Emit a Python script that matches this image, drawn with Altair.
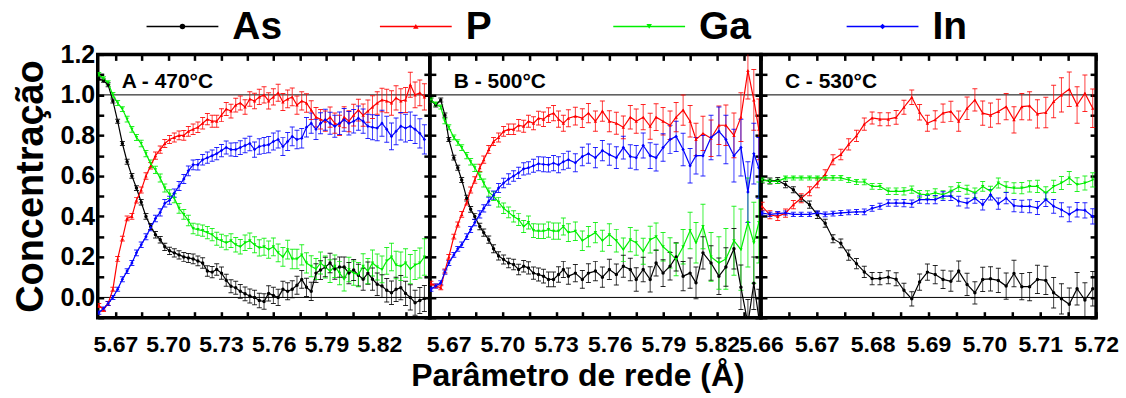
import altair as alt
import pandas as pd

SERIES = ["As", "P", "Ga", "In"]
COLORS = ["#000000", "#ff0000", "#00ee00", "#0000ff"]
SHAPES = ["circle", "triangle-up", "triangle-down", "diamond"]
PANEL_LABELS = ["A - 470°C", "B - 500°C", "C - 530°C"]
REF_LINES = [0.0, 1.0]
Y_TICKS = [-0.1, 0.0, 0.1, 0.2, 0.3, 0.4, 0.5, 0.6, 0.7, 0.8, 0.9, 1.0, 1.1, 1.2]
AB_TICKS = [5.67, 5.685, 5.70, 5.715, 5.73, 5.745, 5.76, 5.775, 5.79, 5.805, 5.82, 5.835]
C_TICKS = [5.66, 5.665, 5.67, 5.675, 5.68, 5.685, 5.69, 5.695, 5.70, 5.705, 5.71, 5.715, 5.72]
A_DOMAIN = [5.66, 5.8487]
B_DOMAIN = [5.6595, 5.8445]
C_DOMAIN = [5.66, 5.72]
Y_DOMAIN = [-0.1, 1.2]

# ---------------- Panel A (470 C) ----------------
A_X = [5.6606, 5.6633, 5.6659, 5.6686, 5.6713, 5.6740, 5.6767, 5.6794, 5.6820, 5.6847,
       5.6874, 5.6901, 5.6928, 5.6955, 5.6981, 5.7008, 5.7035, 5.7062, 5.7089, 5.7115,
       5.7142, 5.7169, 5.7196, 5.7223, 5.7250, 5.7276, 5.7303, 5.7330, 5.7357, 5.7384,
       5.7410, 5.7437, 5.7464, 5.7491, 5.7518, 5.7545, 5.7571, 5.7598, 5.7625, 5.7652,
       5.7679, 5.7705, 5.7732, 5.7759, 5.7786, 5.7813, 5.7840, 5.7866, 5.7893, 5.7920,
       5.7947, 5.7974, 5.8000, 5.8027, 5.8054, 5.8081, 5.8108, 5.8135, 5.8161, 5.8188,
       5.8215, 5.8242, 5.8269, 5.8295, 5.8322, 5.8349, 5.8376, 5.8403, 5.8430, 5.8456]
A_AS = [1.08, 1.07, 1.05, 0.97, 0.87, 0.76, 0.67, 0.60, 0.54, 0.47,
        0.40, 0.35, 0.31, 0.285, 0.25, 0.23, 0.22, 0.21, 0.20, 0.195,
        0.19, 0.18, 0.17, 0.13, 0.125, 0.138, 0.12, 0.085, 0.055, 0.048,
        0.03, 0.018, 0.007, 0.0, -0.015, -0.02, 0.02, 0.01, 0.0, 0.04,
        0.03, 0.04, 0.06, 0.089, 0.05, 0.03, 0.12, 0.135, 0.15, 0.17,
        0.14, 0.15, 0.15, 0.12, 0.135, 0.11, 0.09, 0.12, 0.09, 0.065,
        0.056, 0.035, 0.023, 0.04, 0.048, 0.02, 0.0, -0.026, -0.015, -0.005]
A_P = [-0.04, -0.06, -0.03, 0.04, 0.19, 0.29, 0.39, 0.40, 0.48, 0.53,
       0.60, 0.65, 0.70, 0.73, 0.76, 0.78, 0.79, 0.80, 0.80, 0.82,
       0.83, 0.84, 0.86, 0.88, 0.87, 0.87, 0.90, 0.93, 0.92, 0.95,
       0.96, 0.94, 0.98, 0.97, 0.99, 1.00, 0.97, 0.99, 1.01, 0.965,
       0.98, 0.99, 0.95, 0.97, 0.96, 0.925, 0.89, 0.88, 0.87, 0.89,
       0.86, 0.85, 0.89, 0.87, 0.90, 0.925, 0.90, 0.92, 0.94, 0.96,
       0.975, 0.97, 0.96, 0.985, 0.97, 0.975, 1.05, 1.00, 1.01, 0.99]
A_GA = [1.10, 1.08, 1.06, 1.00, 0.96, 0.93, 0.88, 0.83, 0.79, 0.76,
        0.71, 0.66, 0.63, 0.59, 0.54, 0.51, 0.49, 0.44, 0.41, 0.38,
        0.34, 0.335, 0.33, 0.32, 0.31, 0.29, 0.28, 0.27, 0.28, 0.26,
        0.25, 0.27, 0.28, 0.26, 0.245, 0.25, 0.236, 0.25, 0.22, 0.20,
        0.236, 0.19, 0.19, 0.21, 0.17, 0.154, 0.14, 0.17, 0.15, 0.13,
        0.154, 0.12, 0.09, 0.138, 0.12, 0.113, 0.154, 0.13, 0.17, 0.15,
        0.138, 0.18, 0.20, 0.16, 0.154, 0.17, 0.14, 0.16, 0.17, 0.20]
A_IN = [-0.075, -0.055, -0.03, 0.0, 0.04, 0.09, 0.13, 0.17, 0.22, 0.26,
        0.30, 0.345, 0.39, 0.42, 0.465, 0.48, 0.515, 0.55, 0.585, 0.625,
        0.655, 0.655, 0.68, 0.69, 0.70, 0.71, 0.725, 0.74, 0.73, 0.73,
        0.74, 0.75, 0.76, 0.73, 0.745, 0.75, 0.754, 0.77, 0.78, 0.745,
        0.77, 0.795, 0.78, 0.786, 0.84, 0.86, 0.83, 0.86, 0.877, 0.86,
        0.845, 0.86, 0.877, 0.86, 0.87, 0.885, 0.87, 0.845, 0.84, 0.836,
        0.86, 0.83, 0.795, 0.82, 0.845, 0.836, 0.845, 0.83, 0.81, 0.78]
A_AS_ERR = [0.008, 0.008, 0.01, 0.01, 0.01, 0.01, 0.012, 0.012, 0.012, 0.014,
            0.014, 0.015, 0.016, 0.016, 0.018, 0.018, 0.02, 0.02, 0.022, 0.022,
            0.024, 0.024, 0.026, 0.026, 0.028, 0.028, 0.03, 0.03, 0.032, 0.032,
            0.034, 0.034, 0.035, 0.036, 0.036, 0.038, 0.038, 0.04, 0.04, 0.04,
            0.042, 0.042, 0.044, 0.044, 0.045, 0.045, 0.046, 0.046, 0.048, 0.048,
            0.05, 0.05, 0.05, 0.052, 0.052, 0.054, 0.054, 0.055, 0.055, 0.056,
            0.056, 0.058, 0.058, 0.06, 0.06, 0.06, 0.062, 0.062, 0.064, 0.064]
A_P_ERR = [0.01, 0.01, 0.01, 0.01, 0.012, 0.012, 0.012, 0.014, 0.014, 0.015,
           0.016, 0.016, 0.018, 0.018, 0.02, 0.02, 0.022, 0.022, 0.024, 0.024,
           0.026, 0.026, 0.028, 0.028, 0.03, 0.03, 0.032, 0.032, 0.034, 0.034,
           0.035, 0.036, 0.036, 0.038, 0.038, 0.04, 0.04, 0.04, 0.042, 0.042,
           0.044, 0.044, 0.045, 0.045, 0.046, 0.046, 0.048, 0.048, 0.05, 0.05,
           0.05, 0.05, 0.052, 0.052, 0.054, 0.054, 0.055, 0.055, 0.056, 0.056,
           0.058, 0.058, 0.06, 0.06, 0.06, 0.062, 0.062, 0.064, 0.064, 0.065]
A_GA_ERR = [0.01, 0.01, 0.01, 0.012, 0.012, 0.012, 0.014, 0.014, 0.015, 0.016,
            0.016, 0.018, 0.018, 0.02, 0.02, 0.022, 0.022, 0.024, 0.024, 0.026,
            0.026, 0.028, 0.028, 0.03, 0.03, 0.032, 0.032, 0.034, 0.034, 0.036,
            0.036, 0.038, 0.038, 0.04, 0.04, 0.042, 0.042, 0.044, 0.044, 0.046,
            0.046, 0.048, 0.048, 0.05, 0.05, 0.052, 0.052, 0.054, 0.054, 0.056,
            0.056, 0.058, 0.058, 0.06, 0.06, 0.06, 0.062, 0.062, 0.064, 0.064,
            0.066, 0.066, 0.068, 0.068, 0.07, 0.07, 0.072, 0.072, 0.074, 0.09]
A_IN_ERR = [0.008, 0.008, 0.01, 0.01, 0.01, 0.012, 0.012, 0.012, 0.014, 0.014,
            0.015, 0.016, 0.016, 0.018, 0.018, 0.02, 0.02, 0.022, 0.022, 0.024,
            0.024, 0.026, 0.026, 0.028, 0.028, 0.03, 0.03, 0.032, 0.032, 0.034,
            0.034, 0.036, 0.036, 0.038, 0.038, 0.04, 0.04, 0.042, 0.042, 0.044,
            0.044, 0.046, 0.046, 0.048, 0.048, 0.05, 0.05, 0.052, 0.052, 0.054,
            0.054, 0.056, 0.056, 0.058, 0.058, 0.06, 0.06, 0.06, 0.062, 0.062,
            0.064, 0.064, 0.066, 0.066, 0.068, 0.068, 0.07, 0.07, 0.072, 0.072]

# ---------------- Panel B (500 C) ----------------
B_X = [5.6601, 5.6628, 5.6656, 5.6679, 5.6701, 5.6729, 5.6751, 5.6773, 5.6801, 5.6823,
       5.6846, 5.6874, 5.6896, 5.6924, 5.6951, 5.6979, 5.7007, 5.7035, 5.7063, 5.7091,
       5.7119, 5.7146, 5.7174, 5.7202, 5.7230, 5.7258, 5.7286, 5.7314, 5.7341, 5.7369,
       5.7408, 5.7447, 5.7481, 5.7520, 5.7559, 5.7598, 5.7637, 5.7676, 5.7715, 5.7748,
       5.7787, 5.7826, 5.7859, 5.7898, 5.7937, 5.7971, 5.8010, 5.8049, 5.8082, 5.8121,
       5.8166, 5.8210, 5.8249, 5.8294, 5.8333, 5.8372, 5.8405, 5.8433]
B_AS = [0.975, 0.95, 0.975, 0.90, 0.78, 0.69, 0.64, 0.58, 0.49, 0.435,
        0.40, 0.35, 0.32, 0.285, 0.24, 0.205, 0.187, 0.17, 0.163, 0.138,
        0.154, 0.146, 0.12, 0.113, 0.105, 0.089, 0.089, 0.113, 0.138, 0.105,
        0.12, 0.089, 0.12, 0.13, 0.10, 0.138, 0.113, 0.154, 0.138, 0.089,
        0.138, 0.089, 0.17, 0.12, 0.154, 0.20, 0.105, 0.12, 0.072, 0.22,
        0.17, 0.105, 0.15, 0.24, 0.05, -0.13, 0.07, -0.1]
B_P = [0.07, 0.056, 0.048, 0.13, 0.20, 0.30, 0.36, 0.41, 0.47, 0.53,
       0.58, 0.64, 0.68, 0.73, 0.77, 0.79, 0.82, 0.83, 0.83, 0.85,
       0.845, 0.87, 0.86, 0.885, 0.88, 0.90, 0.91, 0.88, 0.86, 0.885,
       0.895, 0.885, 0.91, 0.87, 0.92, 0.87, 0.86, 0.84, 0.89, 0.87,
       0.89, 0.845, 0.89, 0.87, 0.85, 0.89, 0.925, 0.87, 0.78, 0.81,
       0.786, 0.85, 0.85, 0.80, 0.89, 1.12, 0.975, 0.83]
B_GA = [0.975, 0.955, 0.94, 0.87, 0.84, 0.79, 0.765, 0.74, 0.70, 0.67,
        0.64, 0.60, 0.565, 0.52, 0.50, 0.47, 0.44, 0.42, 0.40, 0.385,
        0.35, 0.37, 0.33, 0.327, 0.327, 0.335, 0.327, 0.327, 0.35, 0.32,
        0.327, 0.28, 0.30, 0.32, 0.28, 0.31, 0.28, 0.236, 0.285, 0.27,
        0.228, 0.285, 0.30, 0.25, 0.22, 0.187, 0.25, 0.33, 0.27, 0.35,
        0.20, 0.17, 0.19, 0.28, 0.236, 0.37, 0.27, 0.37]
B_IN = [0.04, 0.056, 0.072, 0.125, 0.17, 0.21, 0.24, 0.26, 0.30, 0.335,
        0.37, 0.41, 0.44, 0.475, 0.505, 0.54, 0.565, 0.585, 0.60, 0.615,
        0.635, 0.64, 0.65, 0.66, 0.657, 0.655, 0.663, 0.655, 0.67, 0.68,
        0.665, 0.696, 0.71, 0.69, 0.725, 0.705, 0.69, 0.74, 0.696, 0.69,
        0.75, 0.70, 0.69, 0.74, 0.78, 0.795, 0.73, 0.65, 0.70, 0.70,
        0.79, 0.82, 0.78, 0.70, 0.74, 0.52, 0.71, 0.64]
B_AS_ERR = [0.01, 0.01, 0.01, 0.01, 0.01, 0.012, 0.012, 0.012, 0.014, 0.014,
            0.015, 0.016, 0.018, 0.018, 0.02, 0.02, 0.022, 0.024, 0.026, 0.026,
            0.028, 0.03, 0.03, 0.032, 0.034, 0.036, 0.036, 0.038, 0.04, 0.04,
            0.042, 0.044, 0.046, 0.048, 0.05, 0.05, 0.052, 0.054, 0.056, 0.058,
            0.06, 0.062, 0.064, 0.066, 0.068, 0.07, 0.072, 0.075, 0.078, 0.08,
            0.085, 0.09, 0.095, 0.1, 0.11, 0.12, 0.13, 0.14]
B_P_ERR = [0.01, 0.01, 0.01, 0.01, 0.012, 0.012, 0.012, 0.014, 0.014, 0.015,
           0.016, 0.018, 0.018, 0.02, 0.02, 0.022, 0.024, 0.026, 0.026, 0.028,
           0.03, 0.03, 0.032, 0.034, 0.036, 0.036, 0.038, 0.04, 0.04, 0.042,
           0.044, 0.046, 0.048, 0.05, 0.05, 0.052, 0.054, 0.056, 0.058, 0.06,
           0.062, 0.064, 0.066, 0.068, 0.07, 0.072, 0.075, 0.078, 0.08, 0.085,
           0.09, 0.095, 0.1, 0.11, 0.12, 0.14, 0.15, 0.15]
B_GA_ERR = [0.01, 0.01, 0.01, 0.012, 0.012, 0.012, 0.014, 0.014, 0.015, 0.016,
            0.018, 0.018, 0.02, 0.02, 0.022, 0.024, 0.026, 0.026, 0.028, 0.03,
            0.03, 0.032, 0.034, 0.036, 0.036, 0.038, 0.04, 0.04, 0.042, 0.044,
            0.046, 0.048, 0.05, 0.05, 0.052, 0.054, 0.056, 0.058, 0.06, 0.062,
            0.064, 0.066, 0.068, 0.07, 0.075, 0.08, 0.085, 0.09, 0.1, 0.11,
            0.12, 0.13, 0.15, 0.17, 0.2, 0.22, 0.2, 0.2]
B_IN_ERR = [0.01, 0.01, 0.01, 0.01, 0.012, 0.012, 0.012, 0.014, 0.014, 0.015,
            0.016, 0.018, 0.018, 0.02, 0.02, 0.022, 0.024, 0.026, 0.026, 0.028,
            0.03, 0.03, 0.032, 0.034, 0.036, 0.036, 0.038, 0.04, 0.04, 0.042,
            0.044, 0.046, 0.048, 0.05, 0.05, 0.052, 0.054, 0.056, 0.058, 0.06,
            0.062, 0.064, 0.066, 0.068, 0.07, 0.075, 0.08, 0.085, 0.09, 0.1,
            0.11, 0.12, 0.12, 0.13, 0.14, 0.15, 0.15, 0.15]

# ---------------- Panel C (530 C) ----------------
C_X = [5.6602, 5.6616, 5.6630, 5.6644, 5.6658, 5.6672, 5.6687, 5.6701, 5.6715, 5.6729,
       5.6743, 5.6757, 5.6771, 5.6785, 5.6799, 5.6813, 5.6828, 5.6842, 5.6856, 5.6870,
       5.6884, 5.6898, 5.6912, 5.6926, 5.6940, 5.6954, 5.6969, 5.6983, 5.6997, 5.7011,
       5.7025, 5.7039, 5.7053, 5.7067, 5.7081, 5.7095, 5.7110, 5.7124, 5.7138, 5.7152,
       5.7166, 5.7180, 5.7194]
C_AS = [0.58, 0.575, 0.577, 0.557, 0.532, 0.49, 0.458, 0.408, 0.366, 0.29,
        0.267, 0.209, 0.167, 0.126, 0.093, 0.093, 0.10, 0.09, 0.035, -0.007,
        0.076, 0.125, 0.113, 0.089, 0.08, 0.13, 0.064, 0.023, 0.089, 0.092,
        0.084, 0.056, 0.118, 0.053, 0.053, 0.089, 0.084, 0.023, -0.007, -0.034,
        0.043, -0.013, 0.043]
C_P = [0.45, 0.408, 0.40, 0.416, 0.458, 0.49, 0.524, 0.565, 0.607, 0.68,
       0.706, 0.756, 0.798, 0.856, 0.886, 0.88, 0.88, 0.889, 0.939, 0.988,
       0.914, 0.86, 0.877, 0.91, 0.918, 0.87, 0.934, 0.975, 0.91, 0.90,
       0.918, 0.942, 0.877, 0.942, 0.946, 0.906, 0.913, 0.967, 1.0, 1.028,
       0.95, 1.008, 0.934]
C_GA = [0.58, 0.573, 0.573, 0.59, 0.59, 0.59, 0.59, 0.59, 0.59, 0.59,
        0.59, 0.58, 0.57, 0.57, 0.548, 0.548, 0.524, 0.524, 0.524, 0.532,
        0.51, 0.507, 0.516, 0.507, 0.524, 0.545, 0.532, 0.516, 0.548, 0.524,
        0.565, 0.545, 0.54, 0.54, 0.548, 0.548, 0.516, 0.548, 0.565, 0.59,
        0.557, 0.565, 0.58]
C_IN = [0.417, 0.41, 0.414, 0.417, 0.41, 0.41, 0.41, 0.417, 0.41, 0.414,
        0.417, 0.42, 0.422, 0.422, 0.44, 0.45, 0.466, 0.466, 0.466, 0.463,
        0.483, 0.483, 0.483, 0.5, 0.5, 0.475, 0.466, 0.49, 0.458, 0.507,
        0.463, 0.49, 0.453, 0.45, 0.45, 0.442, 0.483, 0.45, 0.433, 0.41,
        0.433, 0.43, 0.40]
C_AS_ERR = [0.015, 0.015, 0.015, 0.015, 0.015, 0.015, 0.018, 0.018, 0.02, 0.02,
            0.022, 0.025, 0.025, 0.028, 0.03, 0.03, 0.032, 0.032, 0.035, 0.035,
            0.04, 0.04, 0.045, 0.045, 0.05, 0.05, 0.055, 0.055, 0.06, 0.06,
            0.06, 0.065, 0.065, 0.065, 0.07, 0.07, 0.07, 0.075, 0.075, 0.08,
            0.08, 0.085, 0.085]
C_P_ERR = [0.02, 0.02, 0.02, 0.02, 0.02, 0.022, 0.022, 0.024, 0.024, 0.025,
           0.026, 0.028, 0.028, 0.03, 0.03, 0.032, 0.032, 0.034, 0.035, 0.036,
           0.038, 0.04, 0.045, 0.045, 0.05, 0.05, 0.055, 0.055, 0.06, 0.06,
           0.06, 0.065, 0.065, 0.065, 0.07, 0.07, 0.075, 0.08, 0.085, 0.085,
           0.09, 0.09, 0.095]
C_GA_ERR = [0.01, 0.01, 0.01, 0.01, 0.01, 0.01, 0.01, 0.01, 0.012, 0.012,
            0.012, 0.012, 0.012, 0.014, 0.014, 0.015, 0.016, 0.016, 0.018, 0.018,
            0.018, 0.02, 0.02, 0.02, 0.022, 0.022, 0.022, 0.024, 0.024, 0.025,
            0.025, 0.026, 0.026, 0.028, 0.028, 0.03, 0.03, 0.03, 0.032, 0.032,
            0.034, 0.034, 0.035]
C_IN_ERR = [0.01, 0.01, 0.01, 0.01, 0.01, 0.01, 0.01, 0.01, 0.012, 0.012,
            0.012, 0.012, 0.012, 0.014, 0.014, 0.015, 0.016, 0.016, 0.018, 0.018,
            0.018, 0.02, 0.02, 0.022, 0.022, 0.024, 0.024, 0.025, 0.026, 0.026,
            0.028, 0.028, 0.03, 0.03, 0.032, 0.032, 0.034, 0.034, 0.035, 0.036,
            0.036, 0.038, 0.038]

FONT = "Liberation Sans, Arial, sans-serif"


def long_frame(xs, values, errors):
    rows = []
    for name, vals, errs in zip(SERIES, values, errors):
        for x, v, e in zip(xs, vals, errs):
            rows.append({"series": name, "x": x, "v": v, "err": e})
    return pd.DataFrame(rows)


def panel(df, domain, ticks, base_tick, step, width, label, first, x_title):
    xsc = alt.Scale(domain=domain, nice=False, zero=False)
    ysc = alt.Scale(domain=Y_DOMAIN, nice=False, zero=False)
    col = alt.Color("series:N", scale=alt.Scale(domain=SERIES, range=COLORS), legend=None)
    shp = alt.Shape("series:N", scale=alt.Scale(domain=SERIES, range=SHAPES), legend=None)
    tick_style = dict(tickSize=6, tickWidth=2.5, tickColor="black", offset=-6,
                      domain=False, grid=False)
    xlab = (f"round((datum.value - {base_tick}) / {step}) % 2 == 0 ? "
            "format(datum.value, '.2f') : ''")
    ylab = "abs(round(datum.value * 10)) % 2 == 0 ? format(datum.value, '.1f') : ''"

    bottom_kw = dict(orient="bottom", values=ticks, labelExpr=xlab, labelFont=FONT,
                     labelFontSize=23, labelFontWeight="bold", labelColor="black",
                     labelPadding=16, labelFlush=False, labelOverlap=False, **tick_style)
    if x_title:
        bottom_kw.update(title=x_title, titleFont=FONT, titleFontSize=32,
                         titleFontWeight="bold", titleColor="black", titlePadding=4,
                         titleX=width / 2 - 18, titleAlign="center")
    else:
        bottom_kw.update(title=None)
    ax_bottom = alt.Axis(**bottom_kw)
    ax_top = alt.Axis(orient="top", values=ticks, labels=False, title=None, **tick_style)
    ax_right = alt.Axis(orient="right", values=Y_TICKS, labels=False, title=None, **tick_style)
    if first:
        ax_left = alt.Axis(orient="left", values=Y_TICKS, labelExpr=ylab, labelFont=FONT,
                           labelFontSize=25, labelFontWeight="bold", labelColor="black",
                           labelPadding=3, labelOverlap=False,
                           title="Concentração", titleFont=FONT, titleFontSize=38,
                           titleFontWeight="bold", titleColor="black", titlePadding=10,
                           **tick_style)
    else:
        ax_left = alt.Axis(orient="left", values=Y_TICKS, labels=False, title=None, **tick_style)

    base = alt.Chart(df)
    xa = alt.X("x:Q", scale=xsc, axis=None)
    bars = base.transform_calculate(lo="datum.v - datum.err", hi="datum.v + datum.err")
    rules = bars.mark_rule(strokeWidth=1, opacity=0.75, clip=True).encode(
        x=xa, y=alt.Y("lo:Q", scale=ysc, axis=None), y2="hi:Q", color=col)
    cap_lo = bars.mark_tick(orient="horizontal", size=5, thickness=1, opacity=0.85,
                            clip=True).encode(
        x=xa, y=alt.Y("lo:Q", scale=ysc, axis=None), color=col)
    cap_hi = bars.mark_tick(orient="horizontal", size=5, thickness=1, opacity=0.85,
                            clip=True).encode(
        x=xa, y=alt.Y("hi:Q", scale=ysc, axis=None), color=col)
    line = base.mark_line(strokeWidth=1.2, clip=True).encode(
        x=alt.X("x:Q", scale=xsc, axis=ax_bottom),
        y=alt.Y("v:Q", scale=ysc, axis=None), color=col)
    pts = base.mark_point(filled=True, size=12, opacity=1, clip=True).encode(
        x=alt.X("x:Q", scale=xsc, axis=ax_top),
        y=alt.Y("v:Q", scale=ysc, axis=ax_right), color=col, shape=shp)
    refs = alt.Chart(pd.DataFrame({"ref": REF_LINES})).mark_rule(
        color="black", strokeWidth=1).encode(y=alt.Y("ref:Q", scale=ysc, axis=ax_left))
    txt = alt.Chart(pd.DataFrame({"label": [label]})).mark_text(
        align="left", baseline="alphabetic", font=FONT, fontSize=21,
        fontWeight="bold", color="black").encode(
        x=alt.value(24), y=alt.value(34), text="label:N")
    return alt.layer(refs, rules, cap_lo, cap_hi, line, pts, txt).resolve_axis(
        x="independent", y="independent").properties(
        width=width, height=264,
        view=alt.ViewBackground(stroke="black", strokeWidth=3.5))


df_a = long_frame(A_X, [A_AS, A_P, A_GA, A_IN], [A_AS_ERR, A_P_ERR, A_GA_ERR, A_IN_ERR])
df_b = long_frame(B_X, [B_AS, B_P, B_GA, B_IN], [B_AS_ERR, B_P_ERR, B_GA_ERR, B_IN_ERR])
df_c = long_frame(C_X, [C_AS, C_P, C_GA, C_IN], [C_AS_ERR, C_P_ERR, C_GA_ERR, C_IN_ERR])

pa = panel(df_a, A_DOMAIN, AB_TICKS, 5.67, 0.015, 333, PANEL_LABELS[0], True, None)
pb = panel(df_b, B_DOMAIN, AB_TICKS, 5.67, 0.015, 332, PANEL_LABELS[1], False,
           "Parâmetro de rede (Å)")
pc = panel(df_c, C_DOMAIN, C_TICKS, 5.66, 0.005, 336, PANEL_LABELS[2], False, None)

# ---------------- legend row (same width as the panel row) ----------------
leg_df = pd.DataFrame({"series": SERIES, "slot": list(range(len(SERIES)))})
lx = alt.X("slot:Q", scale=alt.Scale(domain=[-0.363, 3.915], nice=False, zero=False),
           axis=None)
lcol = alt.Color("series:N", scale=alt.Scale(domain=SERIES, range=COLORS), legend=None)
lshp = alt.Shape("series:N", scale=alt.Scale(domain=SERIES, range=SHAPES), legend=None)
leg_line = alt.Chart(leg_df).mark_rule(strokeWidth=1.5, xOffset=-36, x2Offset=36).encode(
    x=lx, x2=alt.X2("slot"), y=alt.value(21), color=lcol)
leg_pt = alt.Chart(leg_df).mark_point(filled=True, size=30, opacity=1).encode(
    x=lx, y=alt.value(21), color=lcol, shape=lshp)
leg_txt = alt.Chart(leg_df).mark_text(align="left", baseline="middle", dx=50, font=FONT,
                                      fontSize=39, fontWeight="bold", color="black").encode(
    x=lx, y=alt.value(22), text="series:N")
legend = alt.layer(leg_line, leg_pt, leg_txt).properties(
    width=1001, height=44, view=alt.ViewBackground(strokeWidth=0))

row = alt.hconcat(pa, pb, pc, spacing=0, bounds="flush").resolve_scale(
    x="independent", y="independent", color="independent", shape="independent")

chart = alt.vconcat(legend, row, spacing=5, bounds="flush").resolve_scale(
    x="independent", color="independent", shape="independent").properties(
    padding={"left": 10, "top": 5, "right": 5, "bottom": 2},
    background="white").configure_view(strokeWidth=0)

chart.save("out.html", embed_options={"renderer": "svg", "actions": False})
